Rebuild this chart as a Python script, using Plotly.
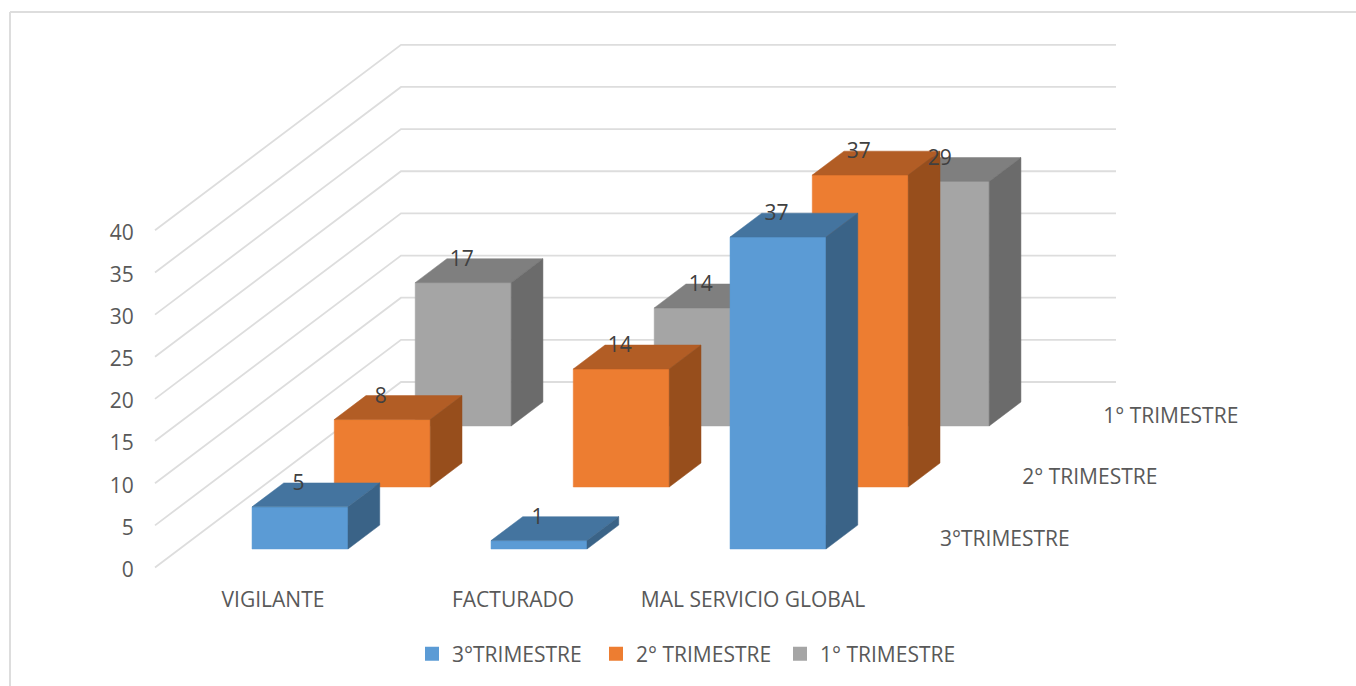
import plotly.graph_objects as go

categories = ["VIGILANTE", "FACTURADO", "MAL SERVICIO GLOBAL"]
series_names = ["3°TRIMESTRE", "2° TRIMESTRE", "1° TRIMESTRE"]
values_t3 = [5, 1, 37]
values_t2 = [8, 14, 37]
values_t1 = [17, 14, 29]
y_ticks = [0, 5, 10, 15, 20, 25, 30, 35, 40]

front_colors = ["#5B9BD5", "#ED7D31", "#A5A5A5"]
top_colors = ["#44749F", "#B25D25", "#7F7F7F"]
side_colors = ["#3A6387", "#974E1C", "#6B6B6B"]

FONT = "Open Sans"
TEXT = "#595959"
FS = 21
W, H = 1356, 686
ML, MB = 141, 111
PLOT_H = H - MB
PX_PER_UNIT = 8.43
Y0_PX = 567.5

# oblique projection of the 3D chart box onto the plane
WALL_DX = 246.0
WALL_DY = 185.5 / PX_PER_UNIT
ROW_DEPTH = [0.0997, 0.434, 0.763]
BAR_DEPTH = 0.129
CAT_X0 = 227.5
CAT_STEP = 239.0
LABEL_STEP = 240.0
BAR_W = 96.0
WALL_LEFT = 155.0
WALL_RIGHT = 870.0


def proj(x, depth, value):
    return x + WALL_DX * depth, value + WALL_DY * depth


fig = go.Figure()


def poly(pts, color):
    xs = [p[0] for p in pts] + [pts[0][0]]
    ys = [p[1] for p in pts] + [pts[0][1]]
    fig.add_trace(go.Scatter(x=xs, y=ys, mode="lines", fill="toself", fillcolor=color,
                             line=dict(color=color, width=0.5), showlegend=False, hoverinfo="skip"))


# gridlines: side wall and back wall
for t in y_ticks:
    a = proj(WALL_LEFT, 0, t)
    b = proj(WALL_LEFT, 1, t)
    c = proj(WALL_RIGHT, 1, t)
    fig.add_trace(go.Scatter(x=[a[0], b[0], c[0]], y=[a[1], b[1], c[1]], mode="lines",
                             line=dict(color="#DDDDDD", width=1.8), showlegend=False, hoverinfo="skip"))

all_values = [values_t3, values_t2, values_t1]

# paint back row first
for row in [2, 1, 0]:
    d0 = ROW_DEPTH[row]
    d1 = d0 + BAR_DEPTH
    for c, v in enumerate(all_values[row]):
        x0 = CAT_X0 + CAT_STEP * c
        x1 = x0 + BAR_W
        poly([proj(x0, d0, 0), proj(x1, d0, 0), proj(x1, d0, v), proj(x0, d0, v)], front_colors[row])
        poly([proj(x0, d0, v), proj(x1, d0, v), proj(x1, d1, v), proj(x0, d1, v)], top_colors[row])
        poly([proj(x1, d0, 0), proj(x1, d1, 0), proj(x1, d1, v), proj(x1, d0, v)], side_colors[row])

# data labels: centred on the front face, level with the back edge of the top
lx, ly, lt = [], [], []
for row in [2, 1, 0]:
    d0 = ROW_DEPTH[row]
    for c, v in enumerate(all_values[row]):
        px = proj(CAT_X0 + CAT_STEP * c + BAR_W / 2, d0, v)[0] - 1.5
        py = proj(0, d0 + BAR_DEPTH, v)[1] - 0.2
        lx.append(px); ly.append(py); lt.append(str(v))
fig.add_trace(go.Scatter(x=lx, y=ly, text=lt, mode="text", textposition="middle center",
                         textfont=dict(family=FONT, size=FS, color="#404040"),
                         showlegend=False, hoverinfo="skip", cliponaxis=False))

# depth axis labels
dx, dy = [], []
for row in range(3):
    p = proj(915.5, ROW_DEPTH[row], 0.98)
    dx.append(p[0]); dy.append(p[1])
fig.add_trace(go.Scatter(x=dx, y=dy, text=series_names, mode="text", textposition="middle right",
                         textfont=dict(family=FONT, size=FS, color=TEXT),
                         showlegend=False, hoverinfo="skip", cliponaxis=False))

# legend entries
for name, color in zip(series_names, front_colors):
    fig.add_trace(go.Scatter(x=[None], y=[None], mode="markers", name=name,
                             marker=dict(symbol="square", size=14, color=color)))

fig.update_layout(
    width=W, height=H,
    margin=dict(l=ML, r=0, t=0, b=MB, autoexpand=False),
    paper_bgcolor="white", plot_bgcolor="white",
    font=dict(family=FONT, size=FS, color=TEXT),
    xaxis=dict(range=[ML, W], showgrid=False, zeroline=False, showline=False,
               tickmode="array",
               tickvals=[CAT_X0 + LABEL_STEP * i + BAR_W / 2 - 2.5 for i in range(3)],
               ticktext=categories, ticks="outside", ticklen=6, tickcolor="white",
               tickfont=dict(family=FONT, size=FS, color=TEXT), fixedrange=True),
    yaxis=dict(range=[(Y0_PX - PLOT_H) / PX_PER_UNIT, Y0_PX / PX_PER_UNIT], showgrid=False,
               zeroline=False, showline=False, tickmode="array", tickvals=y_ticks,
               ticktext=[str(t) for t in y_ticks], ticks="outside", ticklen=2, tickcolor="white",
               ticklabelshift=2,
               tickfont=dict(family=FONT, size=FS, color=TEXT), fixedrange=True),
    legend=dict(orientation="h", x=(412 - ML) / (W - ML), y=(PLOT_H - 654) / PLOT_H,
                xanchor="left", yanchor="middle", itemwidth=30, itemsizing="trace",
                entrywidth=139, entrywidthmode="pixels",
                font=dict(family=FONT, size=FS, color=TEXT), bgcolor="rgba(0,0,0,0)"),
    showlegend=True,
    shapes=[
        dict(type="line", xref="paper", yref="paper", x0=(10 - ML) / (W - ML), x1=(10 - ML) / (W - ML),
             y0=(PLOT_H - 12) / PLOT_H, y1=(PLOT_H - H) / PLOT_H, line=dict(color="#DDDDDD", width=2)),
        dict(type="line", xref="paper", yref="paper", x0=(10 - ML) / (W - ML), x1=1,
             y0=(PLOT_H - 12) / PLOT_H, y1=(PLOT_H - 12) / PLOT_H, line=dict(color="#DDDDDD", width=2)),
    ],
)

fig.write_html("out.html", config=dict(displayModeBar=False),
               post_script="document.body.style.margin='0';document.body.style.overflow='hidden';")
